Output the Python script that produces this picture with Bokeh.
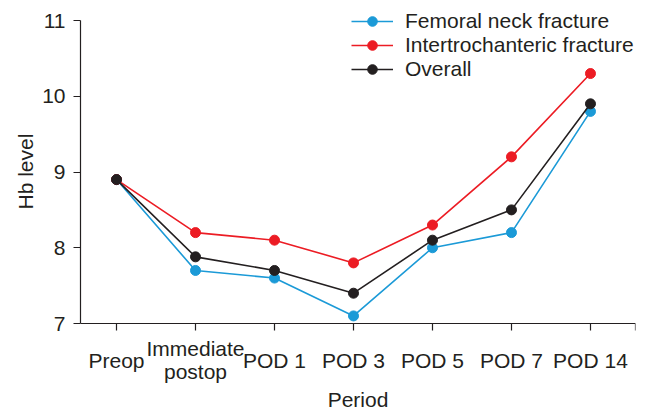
from bokeh.plotting import figure
from bokeh.models import Range1d, FixedTicker, Legend, LegendItem, LabelSet, ColumnDataSource, Title
from bokeh.core.properties import value
from bokeh.embed import file_html
from bokeh.resources import INLINE

periods = ["Preop", "Immediate\npostop", "POD 1", "POD 3", "POD 5", "POD 7", "POD 14"]
femoral = [8.9, 7.7, 7.6, 7.1, 8.0, 8.2, 9.8]
intertroch = [8.9, 8.2, 8.1, 7.8, 8.3, 9.2, 10.3]
overall = [8.9, 7.88, 7.7, 7.4, 8.1, 8.5, 9.9]
series_names = ["Femoral neck fracture", "Intertrochanteric fracture", "Overall"]
y_ticks = [7, 8, 9, 10, 11]
y_label = "Hb level"
x_label = "Period"

FONT = "Liberation Sans"
TXT = "#231f20"
colors = ["#1b9ad7", "#ec1c24", "#231f20"]
FS = "21px"

# layout: the frame fills the canvas height; axes are limited with bounds
H = 410
Y_TOP_PX, Y_BOT_PX = 20, 323
ppu = (Y_BOT_PX - Y_TOP_PX) / (y_ticks[-1] - y_ticks[0])
y_start = y_ticks[0] - (H - Y_BOT_PX) / ppu
y_end = y_ticks[-1] + Y_TOP_PX / ppu

xs = list(range(len(periods)))
x_end = len(periods) - 1 + 0.57

p = figure(frame_width=555, frame_height=H, output_backend="svg", toolbar_location=None,
           x_range=Range1d(-0.456, x_end), y_range=Range1d(y_start, y_end),
           min_border_left=80, min_border_right=14, min_border_top=0, min_border_bottom=0)
p.outline_line_color = None
p.xgrid.visible = False
p.ygrid.visible = False
p.background_fill_color = "white"
p.border_fill_color = "white"

items = []
for name, vals, c in zip(series_names, [femoral, intertroch, overall], colors):
    l = p.line(xs, vals, line_color=c, line_width=1.6)
    s = p.scatter(xs, vals, size=10, fill_color=c, line_color=c)
    items.append(LegendItem(label=name, renderers=[l, s]))

# x axis drawn at y = 7 inside the frame; category labels drawn as centred label set
xa = p.xaxis[0]
xa.fixed_location = y_ticks[0]
xa.ticker = FixedTicker(ticks=xs + [x_end])
overrides = {float(i): "" for i in xs}
overrides[x_end] = ""
xa.major_label_overrides = overrides
xa.axis_label = x_label
xa.axis_label_standoff = 57

ya = p.yaxis[0]
ya.ticker = FixedTicker(ticks=y_ticks)
ya.bounds = (y_ticks[0], y_ticks[-1])
ya.major_label_standoff = 8

for ax in (xa, ya):
    ax.axis_line_color = TXT
    ax.axis_line_width = 1.2
    ax.major_tick_line_color = TXT
    ax.major_tick_line_width = 1.2
    ax.major_tick_out = 7
    ax.major_tick_in = 0
    ax.minor_tick_line_color = None
    ax.major_label_text_font = FONT
    ax.major_label_text_font_size = FS
    ax.major_label_text_color = TXT
    ax.axis_label_text_font = FONT
    ax.axis_label_text_font_size = FS
    ax.axis_label_text_font_style = "normal"
    ax.axis_label_text_color = TXT

# y axis title, centred on the 7..11 span (not on the taller frame)
Y_LABEL_LEN_PX = 75
y_title = Title(text=y_label, align="left",
                offset=H - ((Y_TOP_PX + Y_BOT_PX) / 2 + Y_LABEL_LEN_PX / 2),
                text_font=FONT, text_font_size=FS, text_font_style="normal",
                text_color=TXT, standoff=6)
p.add_layout(y_title, "left")

# category labels: each line centred, block centred vertically below the axis
LABEL_CENTER_PX = 359.5
LINE_PX = 23.5
lx, ly, lt = [], [], []
for i, lab in enumerate(periods):
    lines = lab.split("\n")
    n = len(lines)
    for j, t in enumerate(lines):
        lx.append(xs[i])
        ly.append(H - (LABEL_CENTER_PX + (j - (n - 1) / 2) * LINE_PX))
        lt.append(t)
lab_src = ColumnDataSource(dict(x=lx, y=ly, text=lt))
labels = LabelSet(x="x", y="y", y_units="screen", text="text", source=lab_src,
                  text_align="center", text_baseline="middle",
                  text_font=value(FONT), text_font_size=value(FS), text_color=TXT)
p.add_layout(labels)

legend = Legend(items=items, location=(271, H - 81), orientation="vertical",
                border_line_color=None, background_fill_alpha=0,
                padding=0, margin=0, spacing=0,
                glyph_width=42, glyph_height=24, label_height=24, label_standoff=12,
                label_text_font=FONT, label_text_font_size=FS, label_text_color=TXT)
p.add_layout(legend, "center")

open("out.html", "w").write(file_html(p, INLINE))
